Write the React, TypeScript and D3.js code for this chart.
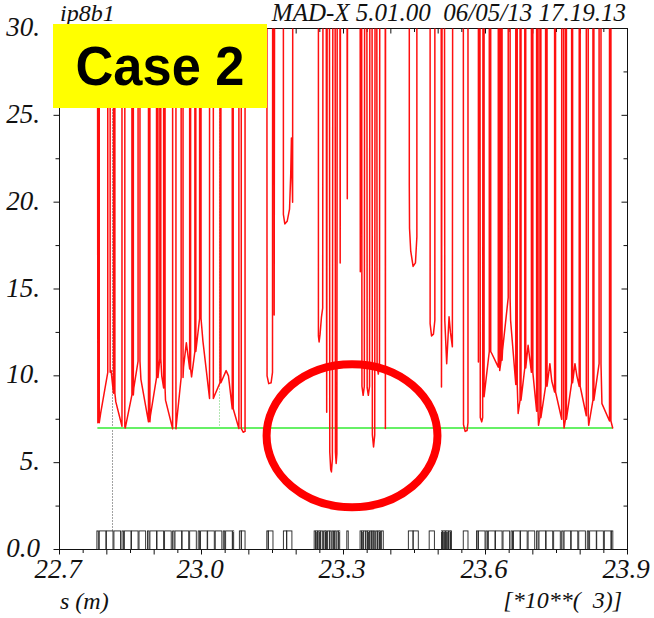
import React from 'react';
import * as d3 from 'd3';

const WIDTH = 654;
const HEIGHT = 618;
const FRAME = { left: 59.5, right: 627.5, top: 28.5, bottom: 549.5 };

// Axis domains: s in metres (labelled in units of 10^3 m), n1 aperture
const S_RANGE: [number, number] = [22700, 23900];
const N1_RANGE: [number, number] = [0, 30];

const xLabelValues = [22700, 23000, 23300, 23600, 23900];
const xLabelTexts = ['22.7', '23.0', '23.3', '23.6', '23.9'];
const yLabelValues = [0, 5, 10, 15, 20, 25, 30];
const yLabelTexts = ['0.0', '5.', '10.', '15.', '20.', '25.', '30.'];

const headerLeft = 'ip8b1';
const headerRight = 'MAD-X 5.01.00  06/05/13 17.19.13';
const xAxisTitle = 's (m)';
const xAxisScale = '[*10**(  3)]';
const caseLabel = 'Case 2';

// n1 limit line
const N1_LIMIT = 7.0;
const limitSpan: [number, number] = [22780, 23869];

// Off-scale value (the trace leaves the frame there)
const T = 45;

// n1 trace knots: [s, n1, width of an off-scale excursion starting at s]
const n1Knots: [number, number, number?][] = [
  [22780, T],
  [22781, 7.3, 3],
  [22787, 7.85],
  [22802, 10.2, 5],
  [22809, 10.3],
  [22814, 9.0, 3],
  [22819, 8.5],
  [22832, 7.1, 6],
  [22839, 7.0],
  [22853, 8.9, 3],
  [22857, 9.3],
  [22866, 10.85, 4],
  [22872, 9.8],
  [22888, 7.35, 3],
  [22892, 7.7],
  [22905, 9.9, 3],
  [22912, 11.0, 2],
  [22916, 10.0],
  [22920, 9.3, 3],
  [22924, 8.6],
  [22939, 6.95, 7],
  [22948, 7.5],
  [22957, 9.9, 4],
  [22962, 10.5],
  [22968, 11.9],
  [22975, 10.4, 2],
  [22979, 9.94],
  [22986, 11.4, 2],
  [22996, 13.3, 3],
  [23003, 12.0],
  [23017, 8.7, 8],
  [23028, 8.9],
  [23039, 9.6, 2],
  [23052, 10.3],
  [23057, 10.0],
  [23065, 8.1, 2],
  [23079, 6.97, 5],
  [23088, 6.75],
  [23092, 6.8],
  [23092, T],
  [23138, T],
  [23138.5, 10.0],
  [23142, 9.55],
  [23147, 9.6],
  [23150, 10.2],
  [23150.5, T],
  [23153, T],
  [23153.5, 13.5],
  [23155, T],
  [23173, T],
  [23173, 19.3],
  [23176, 18.75],
  [23181, 18.9],
  [23186, 19.6],
  [23188.5, 21.6],
  [23190, 23.7],
  [23191, 22.0],
  [23192.5, 20.0],
  [23193, T],
  [23247, T],
  [23247, 12.3],
  [23248.5, 11.95],
  [23250.5, 12.4],
  [23253.5, 13.4],
  [23256, 13.9],
  [23257, T],
  [23263, T],
  [23264.5, 7.9],
  [23266, T],
  [23270, T],
  [23271, 5.6],
  [23273, 4.6],
  [23274.5, 4.47],
  [23276.5, 5.2],
  [23278, T],
  [23282, T],
  [23283, 5.6],
  [23284.5, 4.95],
  [23286, 5.5],
  [23287, T],
  [23292, T],
  [23293, 16.5],
  [23294, T],
  [23307, T],
  [23308, 20.2],
  [23309, T],
  [23335, T],
  [23335.5, 16.0],
  [23336, T],
  [23338, T],
  [23339, 9.4],
  [23341.5, 8.88],
  [23344, 9.4],
  [23345, T],
  [23349, T],
  [23350, 9.3],
  [23352.5, 8.88],
  [23355, 9.4],
  [23356, T],
  [23360, T],
  [23361, 6.6],
  [23363.5, 5.9],
  [23366, 6.6],
  [23367, T],
  [23370, T],
  [23371, 10.6],
  [23373.5, 10.1],
  [23376, 10.6],
  [23377, T],
  [23388, T],
  [23388.5, 6.97],
  [23389, T],
  [23439, T],
  [23439, 21.0],
  [23439.5, 18.5],
  [23442, 17.2],
  [23447, 16.3],
  [23452, 16.5],
  [23455, 18.0],
  [23455, T],
  [23483, T],
  [23483, 13.0],
  [23486, 12.3],
  [23490, 12.4],
  [23493, 13.2],
  [23493, T],
  [23506, T],
  [23507, 9.36],
  [23509, T],
  [23513, T],
  [23514, 13.2],
  [23518, 10.7],
  [23523, 13.4],
  [23526, 12.5],
  [23530, 11.67],
  [23531, T],
  [23553, T],
  [23553.5, 7.2],
  [23557, 6.8],
  [23561, 6.85],
  [23563, 7.3],
  [23563, T],
  [23585, T],
  [23585, 10.8],
  [23586, T],
  [23588, T],
  [23589, 7.6],
  [23592, 7.35],
  [23594, 7.6],
  [23595, T],
  [23597, T],
  [23597, 8.8],
  [23602, 10.0],
  [23608, 11.4, 3],
  [23613, 11.3],
  [23627, 10.5, 3],
  [23630, 10.3],
  [23633, 10.9, 2],
  [23636, 11.47],
  [23648, 14.5, 4],
  [23653, 13.2],
  [23664, 9.5, 3],
  [23669, 7.83],
  [23673, 8.6, 2],
  [23683, 10.45, 2],
  [23690, 11.76],
  [23697, 10.2, 3],
  [23708, 7.96, 3],
  [23712, 7.15],
  [23715, 7.6, 2],
  [23727, 9.4, 3],
  [23736, 10.7],
  [23740, 9.7],
  [23746, 9.07, 2],
  [23761, 7.5, 4],
  [23766, 7.0],
  [23769, 7.5, 2],
  [23782, 9.6, 2],
  [23789, 10.7],
  [23793, 10.0],
  [23798, 9.4, 2],
  [23813, 7.7, 4],
  [23818, 7.15],
  [23827, 8.6, 2],
  [23840, 10.7, 4],
  [23846, 8.4],
  [23862, 7.4, 3],
  [23869, 6.97],
];

// Lattice elements drawn along the bottom: [s start, s end]
const elementBoxes: [number, number][] = [
  [22779, 22782], [22784, 22798], [22799, 22813], [22815, 22829],
  [22832, 22835], [22837, 22851], [22852, 22866], [22868, 22882],
  [22886, 22889], [22891, 22905], [22906, 22920], [22922, 22936],
  [22939, 22942], [22944, 22958], [22959, 22973], [22975, 22989],
  [22993, 22996], [22998, 23012], [23013, 23027], [23029, 23043],
  [23046, 23049], [23051, 23065], [23066, 23068],
  [23080, 23084], [23084, 23092],
  [23138, 23141], [23141, 23151],
  [23173, 23180], [23180, 23191],
  [23238, 23241], [23242, 23244], [23245, 23248], [23249, 23251],
  [23252, 23256], [23258, 23261], [23262, 23264], [23266, 23270],
  [23271, 23274], [23276, 23279], [23281, 23284], [23286, 23289],
  [23290, 23292],
  [23307, 23310],
  [23335, 23338], [23339, 23341], [23342, 23346], [23347, 23350],
  [23351, 23353], [23355, 23358], [23359, 23362], [23363, 23366],
  [23368, 23371], [23372, 23375], [23376, 23378], [23380, 23384],
  [23437, 23447], [23447, 23458],
  [23481, 23492],
  [23507, 23509], [23510, 23512], [23513, 23515], [23516, 23518],
  [23519, 23521], [23522, 23525], [23526, 23528],
  [23553, 23563],
  [23581, 23584], [23585, 23599],
  [23601, 23604], [23606, 23620], [23621, 23635], [23637, 23651],
  [23654, 23657], [23659, 23673], [23674, 23688], [23690, 23704],
  [23708, 23711], [23713, 23727], [23728, 23742], [23744, 23758],
  [23761, 23764], [23766, 23780], [23781, 23795], [23797, 23811],
  [23815, 23818], [23820, 23834], [23835, 23849], [23851, 23865],
  [23866, 23869],
];
const ELEMENT_HEIGHT = 1.07;

// Vertical marker traces
const blackMarkerS = 22812;
const greenMarkerS = 23038;

// Highlight ellipse: centre (s, n1) and half-extents
const highlight = { s: 23318, n1: 6.55, halfS: 180.5, halfN1: 4.12 };

const serif = "'Times New Roman', 'Liberation Serif', Times, serif";
const sans = "Arial, 'Liberation Sans', Helvetica, sans-serif";

export default function App() {
  const x = d3.scaleLinear().domain(S_RANGE).range([FRAME.left, FRAME.right]);
  const y = d3.scaleLinear().domain(N1_RANGE).range([FRAME.bottom, FRAME.top]);

  const tracePoints: [number, number][] = [];
  for (const [s, v, w] of n1Knots) {
    tracePoints.push([s, v]);
    if (w) {
      tracePoints.push([s, T], [s + w, T], [s + w, v]);
    }
  }
  const line = d3
    .line<[number, number]>()
    .x((d) => x(d[0]))
    .y((d) => y(d[1]));

  const sTicks = d3.range(S_RANGE[0], S_RANGE[1] + 1, 50);
  const nTicks = d3.range(N1_RANGE[0], N1_RANGE[1] + 0.01, 2.5);
  const isMajorS = (s: number) => Math.abs(s % 100) < 1e-6;
  const isMajorN = (v: number) => Math.abs(v % 5) < 1e-6;

  return (
    <svg
      width={WIDTH}
      height={HEIGHT}
      viewBox={`0 0 ${WIDTH} ${HEIGHT}`}
      style={{ position: 'absolute', left: 0, top: 0, background: '#fff' }}
    >
      <defs>
        <clipPath id="frame-clip">
          <rect
            x={FRAME.left}
            y={FRAME.top}
            width={FRAME.right - FRAME.left}
            height={FRAME.bottom - FRAME.top}
          />
        </clipPath>
      </defs>
      <rect x={0} y={0} width={WIDTH} height={HEIGHT} fill="#fff" />

      {/* frame */}
      <rect
        x={FRAME.left}
        y={FRAME.top}
        width={FRAME.right - FRAME.left}
        height={FRAME.bottom - FRAME.top}
        fill="none"
        stroke="#111"
        strokeWidth={1}
      />

      {/* s ticks: outward at the bottom, inward at the top */}
      {sTicks.map((s) => {
        const len = isMajorS(s) ? 5 : 3.5;
        return (
          <g key={`st${s}`} stroke="#111" strokeWidth={1}>
            <line x1={x(s)} x2={x(s)} y1={FRAME.bottom} y2={FRAME.bottom + len} />
            <line x1={x(s)} x2={x(s)} y1={FRAME.top} y2={FRAME.top + len} />
          </g>
        );
      })}

      {/* n1 ticks: outward on the left, inward on the right */}
      {nTicks.map((v) => {
        const len = isMajorN(v) ? 6 : 4;
        return (
          <g key={`nt${v}`} stroke="#111" strokeWidth={1}>
            <line x1={FRAME.left - len} x2={FRAME.left} y1={y(v)} y2={y(v)} />
            <line x1={FRAME.right - len} x2={FRAME.right} y1={y(v)} y2={y(v)} />
          </g>
        );
      })}

      <g clipPath="url(#frame-clip)">
        {/* marker traces */}
        <line
          x1={x(blackMarkerS)}
          x2={x(blackMarkerS)}
          y1={y(30)}
          y2={y(ELEMENT_HEIGHT)}
          stroke="#444"
          strokeWidth={1}
          strokeDasharray="1 2"
        />
        <line
          x1={x(greenMarkerS)}
          x2={x(greenMarkerS)}
          y1={y(30)}
          y2={y(N1_LIMIT)}
          stroke="#6c6"
          strokeWidth={1}
          strokeDasharray="1 2"
        />

        {/* n1 limit */}
        <line
          x1={x(limitSpan[0])}
          x2={x(limitSpan[1])}
          y1={y(N1_LIMIT)}
          y2={y(N1_LIMIT)}
          stroke="#66f066"
          strokeWidth={2}
        />

        {/* n1 trace */}
        <path
          d={line(tracePoints) ?? ''}
          fill="none"
          stroke="#ff0f0f"
          strokeWidth={1.5}
          strokeLinejoin="round"
        />

        {/* lattice elements */}
        {elementBoxes.map(([a, b], i) => (
          <rect
            key={`el${i}`}
            x={x(a)}
            y={y(ELEMENT_HEIGHT)}
            width={x(b) - x(a)}
            height={y(0) - y(ELEMENT_HEIGHT)}
            fill="none"
            stroke="#222"
            strokeWidth={0.9}
          />
        ))}
      </g>

      {/* highlight ellipse */}
      <ellipse
        cx={x(highlight.s)}
        cy={y(highlight.n1)}
        rx={x(highlight.s + highlight.halfS) - x(highlight.s)}
        ry={y(highlight.n1) - y(highlight.n1 + highlight.halfN1)}
        fill="none"
        stroke="#ff0000"
        strokeWidth={8}
      />

      {/* axis labels */}
      <g fontFamily={serif} fontStyle="italic" fill="#111">
        {xLabelValues.map((s, i) => (
          <text key={`xl${s}`} x={x(s) - 1.5} y={577.5} fontSize={27} textAnchor="middle">
            {xLabelTexts[i]}
          </text>
        ))}
        {yLabelValues.map((v, i) => (
          <text key={`yl${v}`} x={40} y={y(v) + 7.5} fontSize={27} textAnchor="end">
            {yLabelTexts[i]}
          </text>
        ))}
        <text x={60} y={609} fontSize={24}>
          {xAxisTitle}
        </text>
        <text x={622} y={608} fontSize={24} textAnchor="end" style={{ whiteSpace: 'pre' }}>
          {xAxisScale}
        </text>
        <text x={60} y={20.5} fontSize={24}>
          {headerLeft}
        </text>
        <text x={626} y={20.5} fontSize={25} textAnchor="end" style={{ whiteSpace: 'pre' }}>
          {headerRight}
        </text>
      </g>

      {/* case badge */}
      <rect x={53} y={24} width={214} height={84} fill="#ffff00" />
      <text
        x={160}
        y={85}
        fontFamily={sans}
        fontWeight="bold"
        fontSize={56}
        textAnchor="middle"
        textLength={169}
        lengthAdjust="spacingAndGlyphs"
        fill="#000"
      >
        {caseLabel}
      </text>
    </svg>
  );
}
